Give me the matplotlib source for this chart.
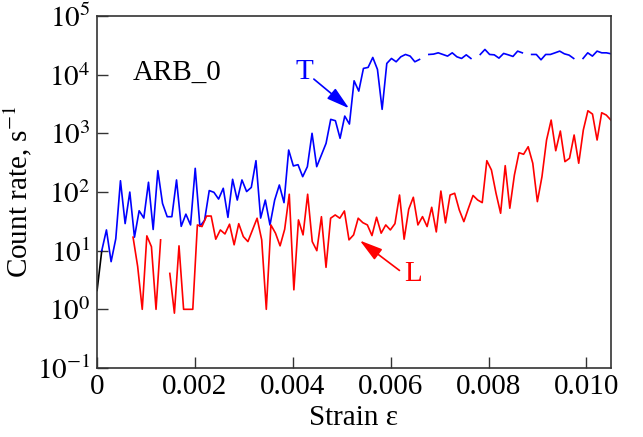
import numpy as np
import matplotlib
matplotlib.use('Agg')
import matplotlib.pyplot as plt
from matplotlib.ticker import FixedLocator, FuncFormatter

plt.rcParams['font.family'] = ['Liberation Serif', 'DejaVu Serif']
plt.rcParams['mathtext.fontset'] = 'stix'

# count rate of the T channel, one value per sample (nan = no reading)
nan = np.nan
count_T = [2.1, 10, 22.6, 6.5, 16, 156, 29, 100, 17, 48,
           36, 147, 23, 232, 64, 38, 38, 161, 26, 42,
           27.5, 254, 26, 33, 106, 99, 76, 116, 37, 165,
           73, 161, 102, 120, 343, 36, 73, 27.5, 73, 132,
           66, 521, 279, 293, 183, 271, 1005, 271, 428, 677,
           1738, 1648, 826, 1977, 1445, 7900, 5270, 12850, 13370, 19770,
           12360, 2576, 15630, 19000, 16670, 20280, 22230, 20830, 16670, 18280,
           nan, 22230, 22530, 23700, 22230, 20830, 23700, 20280, 19000, 21900,
           19000, nan, 22230, 27060, 22230, 21900, 19250, 23140, 21900, 20570,
           25330, 23700, nan, 22230, 22230, 18030, 22230, 22230, 23700, 25330,
           22800, 21670, 19000, nan, 19000, 23700, 20830, 25330, 23700, 23700,
           22800]

# count rate of the L channel
count_L = [17, 5.4, 1.0, 17.9, 11.7, 1.0, 15.3, nan, 4.1, 0.86,
           12.1, 1.0, 1.0, 1.0, 27.5, 25.8, 39, 39, 15.7, 22.6,
           19.3, 28.3, 12.6, 28.9, 17.4, 14.3, 22.6, 35.8, 15.3, 1.0,
           27.5, 19.9, 12.1, 23.2, 91.8, 2.15, 33.5, 18.6, 91.8, 14.3,
           10, 38, 5.2, 35.8, 40.7, 35.8, 47.6, 15.3, 18.6, 35.8,
           30.1, 27.5, 18.1, 37.2, 19.9, 27.5, 22.6, 28.9, 89, 15.7,
           51, 81.5, 27.5, 38.1, 25.8, 55, 20.9, 104, 29.8, 89,
           95.4, 49.6, 31.3, 53, 87.5, 73.3, 66, 343, 238, 95.4,
           43.5, 282, 53, 195, 469, 441, 593, 310, 68.6, 183,
           772, 1690, 507, 1099, 330, 377, 940, 310, 1143, 2438,
           2138, 772, 2254, 2057, 1690]

# sampling of strain for both channels
strain_T = np.arange(len(count_T)) * 0.0000955
strain_L = 0.000735 + np.arange(len(count_L)) * 0.0000939

x_ticks = [0, 0.002, 0.004, 0.006, 0.008, 0.010]
y_ticks = [1e-1, 1e0, 1e1, 1e2, 1e3, 1e4, 1e5]

fig = plt.figure(figsize=(6.43, 4.37), dpi=100)
ax = fig.add_axes([0.151, 0.158, 0.799, 0.805])

ax.plot(strain_T[:2], count_T[:2], color='black', lw=1.2)
ax.plot(strain_T[1:], count_T[1:], color='#0000ff', lw=1.2)
ax.plot(strain_L, count_L, color='#ff0000', lw=1.2)

ax.set_yscale('log')
ax.set_xlim(0, 0.0105)
ax.set_ylim(1e-1, 1e5)

ax.xaxis.set_major_locator(FixedLocator(x_ticks))
ax.xaxis.set_major_formatter(FuncFormatter(lambda v, p: '0' if v == 0 else '%.3f' % v))
ax.yaxis.set_major_locator(FixedLocator(y_ticks))
ax.yaxis.set_major_formatter(FuncFormatter(lambda v, p: '$10^{%d}$' % round(np.log10(v))))
ax.yaxis.set_minor_locator(FixedLocator([]))

ax.tick_params(direction='in', length=8, width=1.0, color='#333333',
               labelsize=21, top=False, right=False)
ax.tick_params(axis='x', pad=4)
ax.tick_params(axis='y', pad=5)
for s in ax.spines.values():
    s.set_color('#333333')
    s.set_linewidth(1.2)

ax.set_xlabel('Strain ε', fontsize=21, labelpad=4)
ax.set_ylabel('Count rate, s$^{-1}$', fontsize=21, labelpad=2)

ax.text(0.000735, 8100, 'ARB_0', fontsize=21, ha='left', va='baseline')

ax.text(0.00423, 11100, 'T', color='#0000ff', fontsize=21, ha='center', va='center')
ax.annotate('', xy=(0.00515, 2680), xytext=(0.00443, 8450),
            arrowprops=dict(arrowstyle='-|>,head_length=0.7,head_width=0.2',
                            color='#0000ff', lw=1.2, shrinkA=0, shrinkB=0,
                            mutation_scale=20))

ax.text(0.00645, 4.0, 'L', color='#ff0000', fontsize=21, ha='center', va='center')
ax.annotate('', xy=(0.00537, 14.9), xytext=(0.00618, 4.6),
            arrowprops=dict(arrowstyle='-|>,head_length=0.7,head_width=0.2',
                            color='#ff0000', lw=1.2, shrinkA=0, shrinkB=0,
                            mutation_scale=20))

plt.savefig('out.png', dpi=100)
